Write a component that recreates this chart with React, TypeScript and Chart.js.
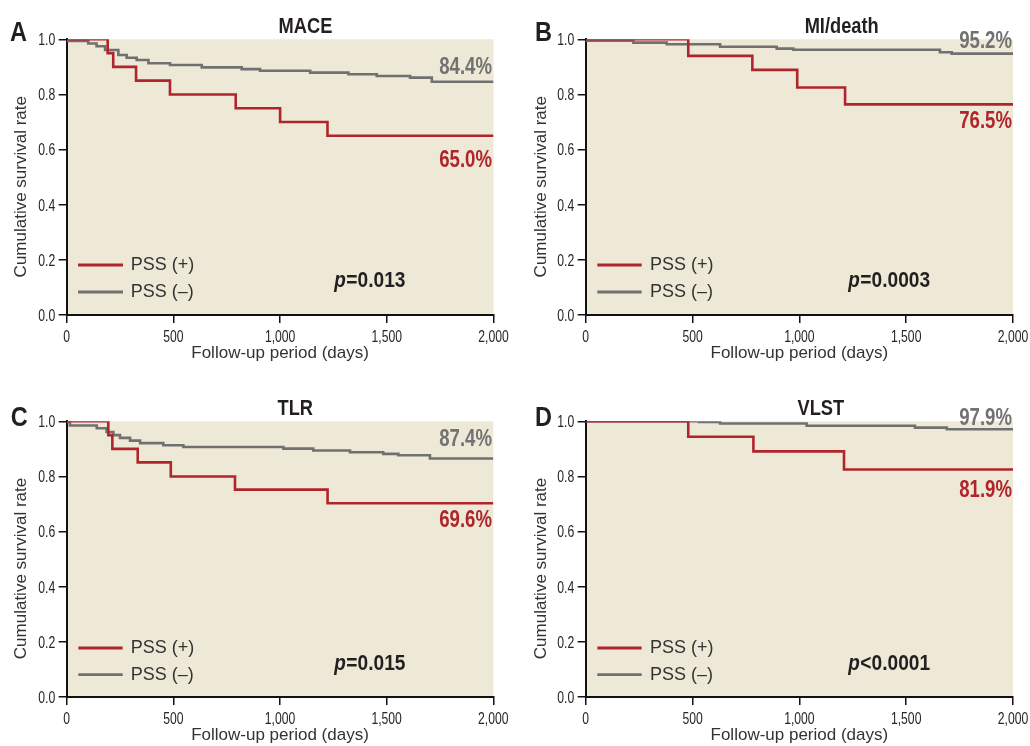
import React, { useEffect, useRef } from 'react';
import { Chart, registerables } from 'chart.js';

Chart.register(...registerables);

// ---------- data ----------
const maceDaysPos = [0, 192, 218, 325, 484, 792, 1000, 1222, 2000];
const maceSurvPos = [1.0, 0.95, 0.9, 0.85, 0.8, 0.75, 0.7, 0.65, 0.65];
const maceDaysNeg = [0, 101, 140, 180, 242, 281, 328, 383, 484, 633, 820, 906, 1141, 1320, 1453, 1609, 1711, 2000];
const maceSurvNeg = [0.994, 0.985, 0.975, 0.961, 0.943, 0.933, 0.925, 0.913, 0.907, 0.898, 0.892, 0.886, 0.879, 0.873, 0.867, 0.861, 0.846, 0.846];

const miDaysPos = [0, 480, 780, 990, 1214, 2000];
const miSurvPos = [1.0, 0.94, 0.889, 0.825, 0.764, 0.764];
const miDaysNeg = [0, 223, 379, 629, 894, 972, 1658, 1713, 2000];
const miSurvNeg = [0.995, 0.988, 0.982, 0.973, 0.966, 0.962, 0.953, 0.948, 0.948];

const tlrDaysPos = [0, 195, 214, 333, 488, 789, 1223, 2000];
const tlrSurvPos = [1.0, 0.95, 0.9, 0.851, 0.8, 0.752, 0.703, 0.703];
const tlrDaysNeg = [0, 15, 141, 187, 219, 250, 297, 344, 453, 547, 1016, 1156, 1328, 1484, 1555, 1703, 2000];
const tlrSurvNeg = [0.998, 0.985, 0.975, 0.961, 0.95, 0.94, 0.93, 0.921, 0.913, 0.907, 0.901, 0.894, 0.888, 0.882, 0.877, 0.865, 0.865];

const vlstDaysPos = [0, 480, 785, 1209, 2000];
const vlstSurvPos = [1.0, 0.944, 0.891, 0.825, 0.825];
const vlstDaysNeg = [0, 530, 629, 1034, 1541, 1690, 2000];
const vlstSurvNeg = [1.0, 0.998, 0.992, 0.984, 0.977, 0.971, 0.971];

const xTickStep = 500;
const yTickStep = 0.2;
const seriesNames = ['PSS (+)', 'PSS (\u2013)'];
const xTitle = 'Follow-up period (days)';
const yTitle = 'Cumulative survival rate';

// ---------- styles ----------
const RED = '#B0252B';
const GRAY = '#707070';
const BEIGE = '#EDE9D6';
const TXT = '#333333';
const TICK = '#262626';
const DARK = '#231F20';
const REG = '"Liberation Sans", Arial, sans-serif';

const fmtX = (v: number) => Number(v).toLocaleString('en-US');
const fmtY = (v: number) => Number(v).toFixed(1);

type PanelCfg = {
  box: { left: number; top: number; w: number; h: number };
  area: { l: number; t: number; r: number; b: number };
  xTitlePad: number;
  yTitleX: number;
  yTitleY: number;
  letter: { text: string; x: number; y: number };
  title: { text: string; x: number; y: number };
  negLabel: { text: string; x: number; y: number };
  posLabel: { text: string; x: number; y: number };
  pval: { rest: string; x: number; y: number };
  legend: { x1: number; x2: number; tx: number; y1: number; y2: number };
  posDays: number[];
  posSurv: number[];
  negDays: number[];
  negSurv: number[];
};

const panels: PanelCfg[] = [
  {
    box: { left: 0, top: 0, w: 515, h: 373 },
    area: { l: 66.7, t: 39.3, r: 493.5, b: 315 },
    xTitlePad: 9.5,
    yTitleX: 21,
    yTitleY: 186.7,
    letter: { text: 'A', x: 10, y: 40.5 },
    title: { text: 'MACE', x: 305.5, y: 32.7 },
    negLabel: { text: '84.4%', x: 492, y: 74 },
    posLabel: { text: '65.0%', x: 492, y: 166.7 },
    pval: { rest: '=0.013', x: 334.3, y: 287.3 },
    legend: { x1: 78, x2: 123, tx: 130.7, y1: 265, y2: 292 },
    posDays: maceDaysPos, posSurv: maceSurvPos, negDays: maceDaysNeg, negSurv: maceSurvNeg,
  },
  {
    box: { left: 515, top: 0, w: 515, h: 373 },
    area: { l: 585.7, t: 39.3, r: 1013, b: 315 },
    xTitlePad: 9.5,
    yTitleX: 26,
    yTitleY: 186.7,
    letter: { text: 'B', x: 20, y: 40.5 },
    title: { text: 'MI/death', x: 326.7, y: 32.7 },
    negLabel: { text: '95.2%', x: 497, y: 48.3 },
    posLabel: { text: '76.5%', x: 497, y: 128.3 },
    pval: { rest: '=0.0003', x: 333.3, y: 287.3 },
    legend: { x1: 82.3, x2: 126.7, tx: 135, y1: 265, y2: 292 },
    posDays: miDaysPos, posSurv: miSurvPos, negDays: miDaysNeg, negSurv: miSurvNeg,
  },
  {
    box: { left: 0, top: 373, w: 515, h: 373 },
    area: { l: 66.7, t: 421.3, r: 493.3, b: 697 },
    xTitlePad: 0,
    yTitleX: 21,
    yTitleY: 195.5,
    letter: { text: 'C', x: 10.7, y: 52.5 },
    title: { text: 'TLR', x: 295.3, y: 42.3 },
    negLabel: { text: '87.4%', x: 492, y: 72.7 },
    posLabel: { text: '69.6%', x: 492, y: 154 },
    pval: { rest: '=0.015', x: 334.3, y: 296.7 },
    legend: { x1: 78.3, x2: 122.7, tx: 130.7, y1: 275, y2: 301.7 },
    posDays: tlrDaysPos, posSurv: tlrSurvPos, negDays: tlrDaysNeg, negSurv: tlrSurvNeg,
  },
  {
    box: { left: 515, top: 373, w: 515, h: 373 },
    area: { l: 585.7, t: 421.3, r: 1013, b: 697 },
    xTitlePad: 0,
    yTitleX: 26,
    yTitleY: 195.5,
    letter: { text: 'D', x: 20, y: 53.3 },
    title: { text: 'VLST', x: 305.8, y: 41.7 },
    negLabel: { text: '97.9%', x: 497, y: 51.7 },
    posLabel: { text: '81.9%', x: 497, y: 124 },
    pval: { rest: '<0.0001', x: 333.3, y: 296.7 },
    legend: { x1: 82.3, x2: 126.7, tx: 135, y1: 275, y2: 301.7 },
    posDays: vlstDaysPos, posSurv: vlstSurvPos, negDays: vlstDaysNeg, negSurv: vlstSurvNeg,
  },
];

// draw text horizontally condensed (narrow typeface look)
function drawNarrow(
  ctx: CanvasRenderingContext2D,
  text: string,
  x: number,
  y: number,
  align: 'left' | 'center' | 'right',
  sx: number
) {
  const w = ctx.measureText(text).width * sx;
  let left = x;
  if (align === 'center') left = x - w / 2;
  else if (align === 'right') left = x - w;
  ctx.save();
  ctx.translate(left, y);
  ctx.scale(sx, 1);
  ctx.textAlign = 'left';
  ctx.fillText(text, 0, 0);
  ctx.restore();
  return w;
}

const bgPlugin = {
  id: 'kmBackground',
  beforeDraw(chart: any) {
    const { ctx, chartArea } = chart;
    ctx.save();
    ctx.fillStyle = BEIGE;
    ctx.fillRect(chartArea.left, chartArea.top, chartArea.right - chartArea.left, chartArea.bottom - chartArea.top);
    ctx.restore();
  },
};

const tickLabelPlugin = {
  id: 'kmTickLabels',
  afterDraw(chart: any) {
    const ctx: CanvasRenderingContext2D = chart.ctx;
    const xs = chart.scales.x;
    const ys = chart.scales.y;
    ctx.save();
    ctx.fillStyle = TICK;
    ctx.font = `16px ${REG}`;
    ctx.textBaseline = 'alphabetic';
    xs.ticks.forEach((t: any) => {
      const px = xs.getPixelForValue(t.value);
      drawNarrow(ctx, fmtX(t.value), px, xs.top + 27, 'center', 0.76);
    });
    ctx.font = `16.5px ${REG}`;
    ys.ticks.forEach((t: any) => {
      const py = ys.getPixelForValue(t.value);
      drawNarrow(ctx, fmtY(t.value), ys.right - 11.5, py + 5.9, 'right', 0.74);
    });
    ctx.restore();
  },
};

function makeAnnotPlugin(p: PanelCfg) {
  return {
    id: 'kmAnnot',
    afterDraw(chart: any) {
      const ctx: CanvasRenderingContext2D = chart.ctx;
      ctx.save();
      ctx.textBaseline = 'alphabetic';
      // panel letter
      ctx.fillStyle = DARK;
      ctx.font = `bold 28px ${REG}`;
      drawNarrow(ctx, p.letter.text, p.letter.x, p.letter.y, 'left', 0.84);
      // title
      ctx.font = `bold 21.5px ${REG}`;
      drawNarrow(ctx, p.title.text, p.title.x, p.title.y, 'center', 0.85);
      // end labels
      ctx.font = `bold 23px ${REG}`;
      ctx.fillStyle = '#727272';
      drawNarrow(ctx, p.negLabel.text, p.negLabel.x, p.negLabel.y, 'right', 0.81);
      ctx.fillStyle = RED;
      drawNarrow(ctx, p.posLabel.text, p.posLabel.x, p.posLabel.y, 'right', 0.81);
      // p value
      ctx.fillStyle = DARK;
      ctx.font = `italic bold 22px ${REG}`;
      const pw = drawNarrow(ctx, 'p', p.pval.x, p.pval.y, 'left', 0.86);
      ctx.font = `bold 22px ${REG}`;
      drawNarrow(ctx, p.pval.rest, p.pval.x + pw + 0.5, p.pval.y, 'left', 0.87);
      // legend
      ctx.lineWidth = 2.8;
      ctx.lineCap = 'butt';
      ctx.strokeStyle = RED;
      ctx.beginPath();
      ctx.moveTo(p.legend.x1, p.legend.y1);
      ctx.lineTo(p.legend.x2, p.legend.y1);
      ctx.stroke();
      ctx.strokeStyle = GRAY;
      ctx.beginPath();
      ctx.moveTo(p.legend.x1, p.legend.y2);
      ctx.lineTo(p.legend.x2, p.legend.y2);
      ctx.stroke();
      ctx.fillStyle = TXT;
      ctx.font = `18px ${REG}`;
      ctx.textBaseline = 'middle';
      ctx.textAlign = 'left';
      ctx.fillText(seriesNames[0], p.legend.tx, p.legend.y1);
      ctx.fillText(seriesNames[1], p.legend.tx, p.legend.y2);
      // y-axis title
      ctx.translate(p.yTitleX, p.yTitleY);
      ctx.rotate(-Math.PI / 2);
      ctx.textAlign = 'center';
      ctx.textBaseline = 'middle';
      ctx.font = `17px ${REG}`;
      ctx.fillStyle = TXT;
      ctx.fillText(yTitle, 0, 0);
      ctx.restore();
    },
  };
}

function KMPanel({ p }: { p: PanelCfg }) {
  const ref = useRef<HTMLCanvasElement>(null);
  useEffect(() => {
    const canvas = ref.current;
    if (!canvas) return;
    const yAxisWidth = p.area.l - p.box.left;
    const xAxisHeight = p.box.top + p.box.h - p.area.b;
    const chart = new Chart(canvas, {
      type: 'scatter',
      data: {
        datasets: [
          {
            label: seriesNames[0],
            data: p.posDays.map((d, i) => ({ x: d, y: p.posSurv[i] })),
            borderColor: RED,
            backgroundColor: RED,
            borderWidth: 2.6,
            showLine: true,
            stepped: true,
            pointRadius: 0,
            fill: false,
          },
          {
            label: seriesNames[1],
            data: p.negDays.map((d, i) => ({ x: d, y: p.negSurv[i] })),
            borderColor: GRAY,
            backgroundColor: GRAY,
            borderWidth: 2.6,
            showLine: true,
            stepped: true,
            pointRadius: 0,
            fill: false,
          },
        ],
      },
      options: {
        responsive: false,
        animation: false,
        events: [],
        layout: {
          padding: {
            left: 0,
            top: p.area.t - p.box.top,
            right: p.box.left + p.box.w - p.area.r,
            bottom: 0,
          },
        },
        plugins: {
          legend: { display: false },
          tooltip: { enabled: false },
          title: { display: false },
        },
        scales: {
          x: {
            type: 'linear',
            min: 0,
            max: 2000,
            afterFit: (s: any) => {
              s.height = xAxisHeight;
            },
            ticks: {
              stepSize: xTickStep,
              display: false,
              callback: (v: any) => fmtX(v),
            },
            grid: {
              display: true,
              drawOnChartArea: false,
              drawTicks: true,
              tickLength: 8,
              color: '#111',
              lineWidth: 1.5,
            },
            border: { display: true, color: '#111', width: 2 },
            title: {
              display: true,
              text: xTitle,
              font: { family: REG, size: 17 },
              color: TXT,
              padding: { top: 0, bottom: p.xTitlePad },
            },
          },
          y: {
            type: 'linear',
            min: 0,
            max: 1,
            afterFit: (s: any) => {
              s.width = yAxisWidth;
            },
            ticks: {
              stepSize: yTickStep,
              display: false,
              callback: (v: any) => fmtY(v),
            },
            grid: {
              display: true,
              drawOnChartArea: false,
              drawTicks: true,
              tickLength: 8,
              color: '#111',
              lineWidth: 1.5,
            },
            border: { display: true, color: '#111', width: 2 },
          },
        },
      } as any,
      plugins: [bgPlugin, tickLabelPlugin, makeAnnotPlugin(p)],
    });
    return () => chart.destroy();
  }, [p]);
  return (
    <canvas
      ref={ref}
      width={p.box.w}
      height={p.box.h}
      style={{ position: 'absolute', left: p.box.left, top: p.box.top, width: p.box.w, height: p.box.h }}
    />
  );
}

export default function App() {
  return (
    <div style={{ position: 'absolute', left: 0, top: 0, width: 1030, height: 746, background: '#ffffff', overflow: 'hidden' }}>
      {panels.map((p, i) => (
        <KMPanel key={i} p={p} />
      ))}
    </div>
  );
}
